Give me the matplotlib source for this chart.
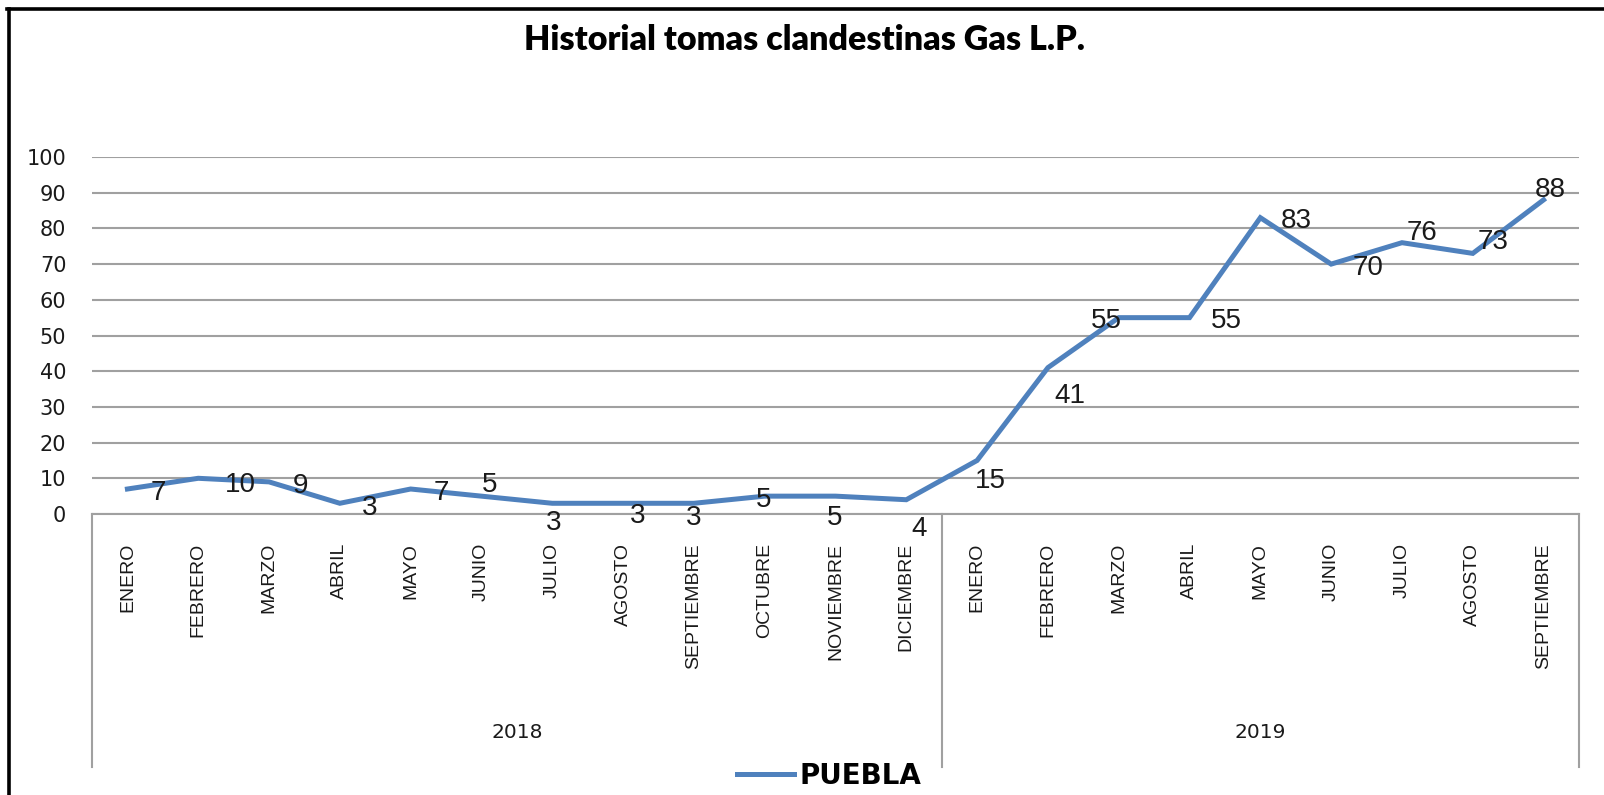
import numpy as np
import matplotlib
matplotlib.use("Agg")
import matplotlib.pyplot as plt
from matplotlib.lines import Line2D

# data
months = ["ENERO", "FEBRERO", "MARZO", "ABRIL", "MAYO", "JUNIO", "JULIO",
          "AGOSTO", "SEPTIEMBRE", "OCTUBRE", "NOVIEMBRE", "DICIEMBRE",
          "ENERO", "FEBRERO", "MARZO", "ABRIL", "MAYO", "JUNIO", "JULIO",
          "AGOSTO", "SEPTIEMBRE"]
years = ["2018", "2019"]
months_per_year = [12, 9]
puebla = [7, 10, 9, 3, 7, 5, 3, 3, 3, 5, 5, 4,
          15, 41, 55, 55, 83, 70, 76, 73, 88]

# label offsets (pixels, label centre relative to point, +y is down)
label_dx = [31, 42, 31, 30, 31, 8, 1, 15, 0, -1, -1, 13, 13, 22, -12, 37, 36, 37, 20, 20, 7]
label_dy = [1, 4, 1, 2, 1, -14, 17, 10, 12, 1, 19, 26, 18, 25, 0, 0, 0, 1, -13, -14, -13]

W, H = 1604, 795
fig = plt.figure(figsize=(W / 100, H / 100), dpi=100)
ax = fig.add_axes([92 / W, 1 - 514 / H, (1579 - 92) / W, (514 - 157) / H])

x = np.arange(len(puebla))
line_color = "#4F81BD"
grid_color = "#A0A0A0"
text_color = "#1a1a1a"

ax.plot(x, puebla, color=line_color, lw=3.6, solid_joinstyle="miter", label="PUEBLA", zorder=3)

ax.set_xlim(-0.5, len(puebla) - 0.5)
ax.set_ylim(0, 100)
ax.set_yticks(np.arange(0, 101, 10))
ax.yaxis.grid(True, color=grid_color, lw=1.5)
ax.set_axisbelow(True)
for s in ["top", "right", "left"]:
    ax.spines[s].set_visible(False)
ax.spines["bottom"].set_color(grid_color)
ax.spines["bottom"].set_linewidth(1.5)
ax.tick_params(axis="y", length=0, pad=18.5, labelsize=15, labelcolor=text_color)
ax.tick_params(axis="x", length=0)
ax.set_xticks([])

# month labels, rotated
xt = ax.get_xaxis_transform()
for i, m in enumerate(months):
    ax.text(i, -29 / 357, m, transform=xt, rotation=90, ha="center", va="top",
            fontsize=14, family="Liberation Sans", color=text_color)

# year group box and labels
bottom = -(767 - 514) / 357
edges = np.concatenate([[0], np.cumsum(months_per_year)]) - 0.5
for e in edges:
    ax.plot([e, e], [0, bottom], transform=xt, color=grid_color, lw=1.5, clip_on=False)
for k, yr in enumerate(years):
    ax.text((edges[k] + edges[k + 1]) / 2, -(733 - 514) / 357, yr, transform=xt,
            ha="center", va="center", fontsize=14.5, color=text_color)

# data labels
for i, v in enumerate(puebla):
    ax.annotate(str(v), (i, v), xytext=(label_dx[i], -label_dy[i] - 10),
                textcoords="offset pixels", ha="center", va="baseline",
                fontsize=20, family="Liberation Sans", color=text_color, zorder=4)

fig.text(805 / W, 1 - 40 / H, "Historial tomas clandestinas Gas L.P.",
         ha="center", va="center", fontsize=24.5, fontweight="heavy", family="Lato")

ax.legend(loc="center", bbox_to_anchor=(829 / W, 1 - 776 / H),
          bbox_transform=fig.transFigure, frameon=False, borderpad=0,
          handlelength=2.05, handletextpad=0.2,
          prop={"family": "DejaVu Sans", "weight": "bold", "size": 20})

# outer border (left and top only visible)
fig.add_artist(Line2D([8.5 / W, 8.5 / W], [0, 1 - 8.5 / H], color="black", lw=2.6,
                      transform=fig.transFigure))
fig.add_artist(Line2D([7 / W, 1], [1 - 8.5 / H, 1 - 8.5 / H], color="black", lw=2.6,
                      transform=fig.transFigure))

fig.savefig("out.png", dpi=100)
